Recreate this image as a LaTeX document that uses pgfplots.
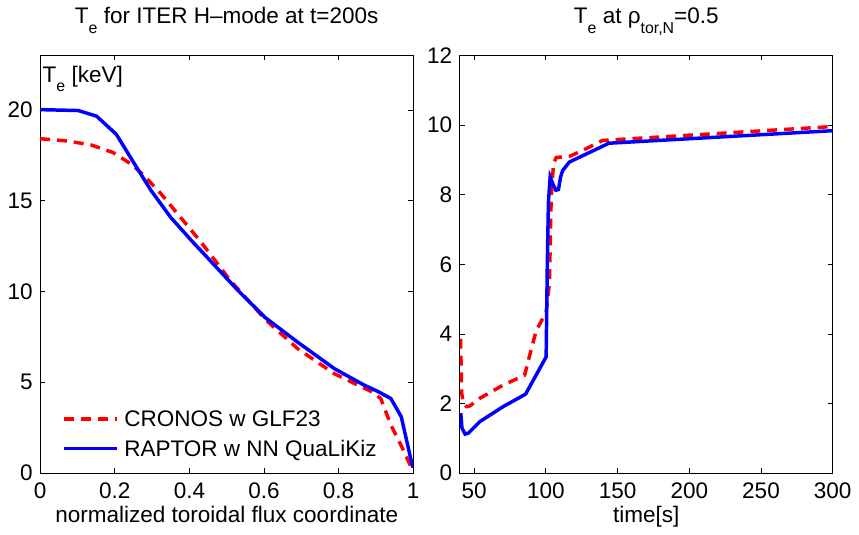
\documentclass[border=0pt]{standalone}
\usepackage{fontspec}
\setmainfont{Liberation Sans}
\usepackage{pgfplots}
\pgfplotsset{compat=1.18}
\newcommand\sub[1]{\raisebox{-0.42em}{\fontsize{16bp}{16bp}\selectfont #1}}
\begin{document}
\fontsize{22.7bp}{27bp}\selectfont
\begin{tikzpicture}
\pgfplotsset{
  every axis/.append style={
    scale only axis, width=376bp, height=421bp,
    font=\fontsize{22.7bp}{27bp}\selectfont,
    /pgf/number format/assume math mode=true,
    axis line style={line width=0.9bp},
    every tick/.style={black, line width=0.8bp},
    major tick length=5bp,
    xtick pos=both, ytick pos=both, tick align=inside,
    title style={at={(0.5,1)}, anchor=base, yshift=26bp},
    xlabel style={at={(0.5,0)}, anchor=base, yshift=-50bp},
    xticklabel style={anchor=base, yshift=-26bp},
  },
  redd/.style={red, line width=3.5bp, dash pattern=on 10bp off 7bp},
  blues/.style={blue, line width=3.5bp},
}
\begin{axis}[
  xmin=0, xmax=1, ymin=0, ymax=23,
  xtick={0,0.2,0.4,0.6,0.8,1},
  xticklabels={0,0.2,0.4,0.6,0.8,1},
  ytick={0,5,10,15,20},
  title={T\sub{e} for ITER H\textendash mode at t=200s},
  xlabel={normalized toroidal flux coordinate},
  legend style={draw=none, fill=none, at={(0.0585,0.030)}, anchor=south west,
    inner sep=0pt, row sep=8bp,
    nodes={inner sep=1bp, anchor=base west, font=\fontsize{22.7bp}{27bp}\selectfont}},
  legend cell align=left,
  legend image code/.code={\draw[#1] (0bp,0.33em) -- (53bp,0.33em); \path (58bp,0bp);},
]
\addplot[redd] coordinates {
(0,18.42) (0.075,18.29) (0.137,18.07) (0.195,17.66) (0.244,17.02) (0.279,16.38)
(0.324,15.38) (0.368,14.29) (0.43,12.75) (0.51,10.6) (0.603,8.47) (0.691,6.84)
(0.789,5.47) (0.886,4.51) (0.913,4.11) (0.94,2.66) (0.971,1.38) (0.997,0.22) (1,0.1)};
\addlegendentry{CRONOS w GLF23}
\addplot[blues] coordinates {
(0,20.02) (0.102,19.97) (0.151,19.66) (0.204,18.66) (0.253,17.02) (0.297,15.57)
(0.35,14.08) (0.412,12.66) (0.425,12.38) (0.532,10.02) (0.603,8.57) (0.691,7.2)
(0.789,5.75) (0.869,4.84) (0.904,4.51) (0.94,4.11) (0.968,3.11) (0.997,0.47) (1,0.3)};
\addlegendentry{RAPTOR w NN QuaLiKiz}
\node[anchor=base west, inner sep=0pt] at (rel axis cs:0.006,0.936) {T\sub{e} [keV]};
\end{axis}
\begin{axis}[
  at={(423bp,0)},
  xmin=40, xmax=300, ymin=0, ymax=12,
  xtick={50,100,150,200,250,300},
  ytick={0,2,4,6,8,10,12},
  title={T\sub{e} at ρ\sub{tor,N}=0.5},
  xlabel={time[s]},
]
\addplot[redd] coordinates {
(40.5,3.86) (41,3.0) (41.3,2.3) (42.5,2.0) (44.8,1.91) (47,1.93) (54,2.15) (70.2,2.53)
(85.2,2.81) (88.7,3.38) (93.3,4.1) (100.2,4.62) (102.5,5.47) (103.7,7.85) (105.3,8.89)
(107.2,9.07) (116.4,9.1) (128,9.32) (139.5,9.56) (300,9.96)};
\addplot[blues] coordinates {
(40.7,1.72) (41.5,1.3) (43.7,1.12) (46,1.15) (54,1.48) (70.2,1.91) (85.9,2.27)
(100.2,3.34) (101,6.0) (101.8,7.8) (103,8.51) (105,8.3) (107,8.13) (108.8,8.15)
(110.2,8.5) (111.8,8.7) (116.4,8.94) (144,9.48) (300,9.84)};
\end{axis}
\end{tikzpicture}
\end{document}
